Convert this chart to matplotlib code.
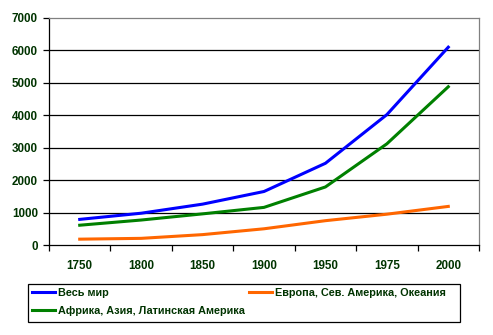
import matplotlib.pyplot as plt
from matplotlib.lines import Line2D
from matplotlib.patches import Rectangle

# годы (категории) и население, млн
years = ['1750', '1800', '1850', '1900', '1950', '1975', '2000']
world = [790, 980, 1260, 1650, 2520, 4020, 6100]
north = [180, 205, 320, 500, 750, 950, 1190]
south = [610, 770, 960, 1160, 1790, 3120, 4880]

names = ['Весь мир', 'Европа, Сев. Америка, Океания', 'Африка, Азия, Латинская Америка']
colors = ['#0000FF', '#FF6600', '#008000']
txt = '#003300'

plt.rcParams['font.family'] = 'Liberation Sans'
plt.rcParams['font.weight'] = 'bold'
plt.rcParams['font.size'] = 8.4

fig = plt.figure(figsize=(4.93, 3.35), dpi=100)
ax = fig.add_axes([49/493, 1-245/335, 430/493, 227/335])

x = list(range(len(years)))
ax.plot(x, world, color=colors[0], lw=2.2)
ax.plot(x, north, color=colors[1], lw=2.2)
ax.plot(x, south, color=colors[2], lw=2.2)

ax.set_xlim(-0.5, len(years)-0.5)
ax.set_ylim(0, 7000)
ax.set_yticks(range(0, 7001, 1000))
for v in range(1000, 7000, 1000):
    ax.axhline(v, color='black', lw=0.9, zorder=0)

ax.set_xticks([i-0.5 for i in range(len(years)+1)])
ax.set_xticklabels([])
ax.set_xticks(x, minor=True)
ax.set_xticklabels(years, minor=True)
ax.tick_params(axis='x', which='major', length=4, width=0.9, color='black')
ax.tick_params(axis='x', which='minor', length=0, pad=11, labelcolor=txt)
ax.tick_params(axis='y', length=4, width=0.9, pad=4, labelcolor=txt)

ax.spines['top'].set_color('#808080')
ax.spines['right'].set_color('#808080')
ax.spines['left'].set_color('black')
ax.spines['bottom'].set_color('black')
for s in ax.spines.values():
    s.set_linewidth(0.9)

# рамка легенды
fig.patches.append(Rectangle((28/493, 1-322/335), 432/493, 38/335,
                             transform=fig.transFigure, fill=False,
                             edgecolor='black', lw=0.9))

handles = [Line2D([], [], color=colors[0], lw=2.2),
           Line2D([], [], color=colors[2], lw=2.2),
           Line2D([], [], color=colors[1], lw=2.2)]
labels = [names[0], names[2], names[1]]
leg = fig.legend(handles, labels, ncol=2, loc='upper left',
                 bbox_to_anchor=(28/493, 1-284/335), frameon=False,
                 borderaxespad=0,
                 handlelength=2.1, handletextpad=0.3, columnspacing=0.4,
                 labelspacing=0.75, borderpad=0.35, prop={'size': 7.8})
for t in leg.get_texts():
    t.set_color(txt)

fig.savefig('out.png', dpi=100)
